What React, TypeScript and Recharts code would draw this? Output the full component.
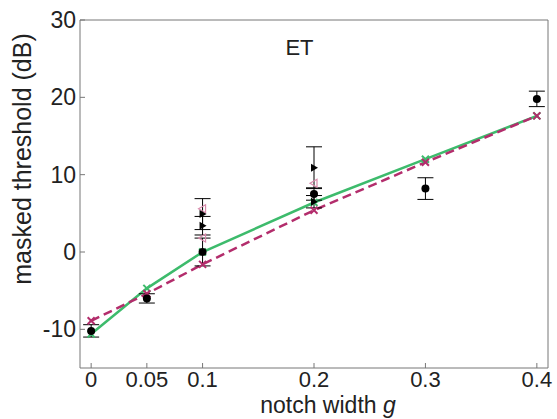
import React from 'react';
import { ComposedChart, Line, Scatter, XAxis, YAxis, ErrorBar, ReferenceDot } from 'recharts';

// notch widths on the x axis
const xTicks = [0, 0.05, 0.1, 0.2, 0.3, 0.4];
const yTicks = [-10, 0, 10, 20, 30];

// model predictions
const greenModel = [
  { x: 0, y: -10.6 },
  { x: 0.05, y: -4.7 },
  { x: 0.1, y: 0 },
  { x: 0.2, y: 6.4 },
  { x: 0.3, y: 12 },
  { x: 0.4, y: 17.6 },
];
const magentaModel = [
  { x: 0, y: -8.9 },
  { x: 0.05, y: -5.4 },
  { x: 0.1, y: -1.6 },
  { x: 0.2, y: 5.4 },
  { x: 0.3, y: 11.6 },
  { x: 0.4, y: 17.6 },
];

// measured thresholds (mean +- error)
const meanPoints = [
  { x: 0, y: -10.2, err: 0.8 },
  { x: 0.05, y: -6, err: 0.6 },
  { x: 0.1, y: 0, err: 1.8 },
  { x: 0.2, y: 7.5, err: 0.8 },
  { x: 0.3, y: 8.2, err: 1.4 },
  { x: 0.4, y: 19.8, err: 1 },
];
const filledTriangles = [
  { x: 0.1, y: 4.9, err: 2 },
  { x: 0.1, y: 3.4, err: 1.2 },
  { x: 0.2, y: 10.9, err: 2.7 },
  { x: 0.2, y: 6.5, err: 0.8 },
];
const openTriangles = [
  { x: 0.1, y: 5.6 },
  { x: 0.1, y: 1.8 },
  { x: 0.2, y: 8.9 },
];

const GREEN = '#3dbb6c';
const MAGENTA = '#b32d6c';
const PINK = '#d88aab';
const AXIS = '#777';
const FONT = '"Liberation Sans", Arial, sans-serif';

const cross = (color: string) => (props: any) => {
  const { cx, cy, index } = props;
  if (cx == null || cy == null) return <g key={index} />;
  const s = 3.5;
  return (
    <g key={index}>
      <line x1={cx - s} y1={cy - s} x2={cx + s} y2={cy + s} stroke={color} strokeWidth={2} />
      <line x1={cx - s} y1={cy + s} x2={cx + s} y2={cy - s} stroke={color} strokeWidth={2} />
    </g>
  );
};

const Dot = (props: any) => <circle cx={props.cx} cy={props.cy} r={4} fill="#000" />;

const FilledTri = (props: any) => {
  const { cx, cy } = props;
  return <polygon points={`${cx - 3},${cy - 4} ${cx + 4},${cy} ${cx - 3},${cy + 4}`} fill="#000" />;
};

const OpenTri = (props: any) => {
  const { cx, cy } = props;
  return (
    <polygon
      points={`${cx + 3},${cy - 4} ${cx - 4},${cy} ${cx + 3},${cy + 4}`}
      fill="none"
      stroke={PINK}
      strokeWidth={1.2}
    />
  );
};

const YLabel = (props: any) => (
  <text
    x={22}
    y={159}
    transform="rotate(-90 22 159)"
    textAnchor="middle"
    dominantBaseline="central"
    fontSize={25}
    fontFamily={FONT}
    fill="#222"
  >
    masked threshold (dB)
  </text>
);

const XLabel = (props: any) => (
  <text x={328} y={413} textAnchor="middle" fontSize={23} fontFamily={FONT} fill="#222">
    notch width <tspan fontStyle="italic">g</tspan>
  </text>
);

export default function App() {
  return (
    <div style={{ position: 'absolute', left: 0, top: 0, width: 557, height: 419, background: '#fff' }}>
      <ComposedChart width={557} height={419} margin={{ top: 19, right: 8, bottom: 0, left: 0 }}>
        <XAxis
          dataKey="x"
          type="number"
          domain={[-0.01, 0.41]}
          ticks={xTicks}
          allowDataOverflow
          height={51}
          stroke={AXIS}
          tickSize={-5}
          tickMargin={8}
          tick={{ fill: '#222', fontSize: 22, fontFamily: FONT }}
          label={<XLabel />}
        />
        <XAxis
          xAxisId="top"
          orientation="top"
          type="number"
          domain={[-0.01, 0.41]}
          ticks={xTicks}
          height={1}
          stroke={AXIS}
          tickSize={-5}
          tick={false}
        />
        <YAxis
          type="number"
          domain={[-15, 30]}
          ticks={yTicks}
          allowDataOverflow
          width={80}
          stroke={AXIS}
          tickSize={-5}
          tickMargin={9}
          tick={{ fill: '#222', fontSize: 23, fontFamily: FONT }}
          label={<YLabel />}
        />
        <YAxis
          yAxisId="right"
          orientation="right"
          type="number"
          domain={[-15, 30]}
          ticks={yTicks}
          width={1}
          stroke={AXIS}
          tickSize={-5}
          tick={false}
        />
        <ReferenceDot
          x={0.187}
          y={26.5}
          r={0}
          label={{ value: 'ET', position: 'center', fontSize: 22, fontFamily: FONT, fill: '#222' }}
        />
        <Line
          data={greenModel}
          dataKey="y"
          stroke={GREEN}
          strokeWidth={2.5}
          dot={cross(GREEN)}
          activeDot={false}
          isAnimationActive={false}
        />
        <Line
          data={magentaModel}
          dataKey="y"
          stroke={MAGENTA}
          strokeWidth={2.5}
          strokeDasharray="9 5"
          dot={cross(MAGENTA)}
          activeDot={false}
          isAnimationActive={false}
        />
        <Scatter data={openTriangles} dataKey="y" shape={<OpenTri />} isAnimationActive={false} />
        <Scatter data={filledTriangles} dataKey="y" shape={<FilledTri />} isAnimationActive={false}>
          <ErrorBar dataKey="err" direction="y" width={8} stroke="#000" strokeWidth={1} />
        </Scatter>
        <Scatter data={meanPoints} dataKey="y" shape={<Dot />} isAnimationActive={false}>
          <ErrorBar dataKey="err" direction="y" width={8} stroke="#000" strokeWidth={1} />
        </Scatter>
      </ComposedChart>
    </div>
  );
}
